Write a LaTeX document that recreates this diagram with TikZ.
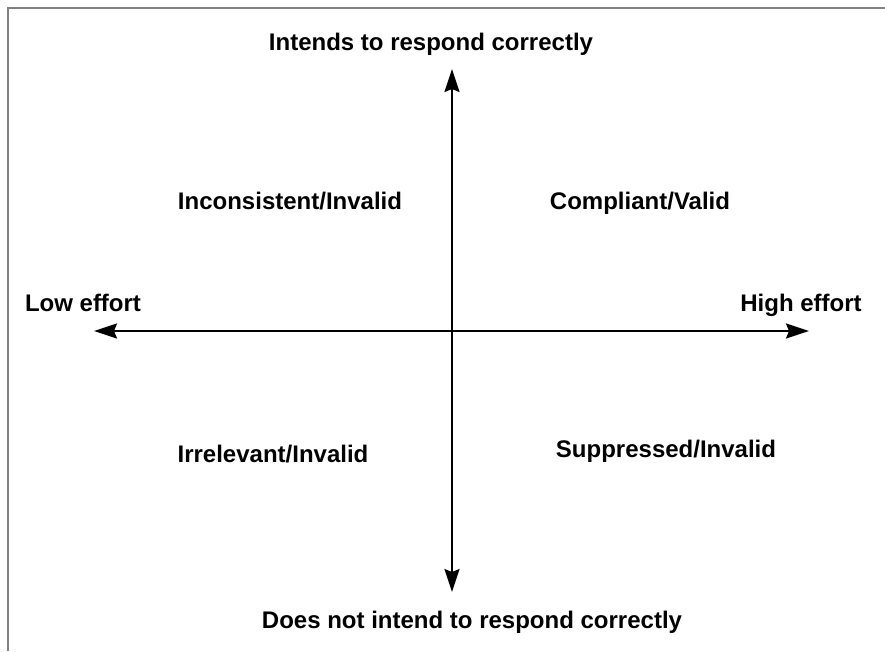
\documentclass[tikz,border=0pt]{standalone}
\usepackage{fontspec}
\setmainfont{Liberation Sans}
\usetikzlibrary{arrows.meta}

\begin{document}
\begin{tikzpicture}[x=1pt,y=1pt,
		label/.style={anchor=base,inner sep=0pt,font=\fontsize{24}{28}\selectfont\bfseries},
		axis/.style={line width=2pt,{Stealth[length=23pt,width=15pt,inset=3pt]}-{Stealth[length=23pt,width=15pt,inset=3pt]}}]
			\useasboundingbox (0,0) rectangle (885,-651);
			\draw[gray,line width=2pt] (8,-651) -- (8,-8) -- (885,-8);
			\coordinate (north) at (452,-69);
			\coordinate (south) at (452,-592);
			\coordinate (west) at (94,-331);
			\coordinate (east) at (809,-331);
			\draw[axis] (south) -- (north);
			\draw[axis] (west) -- (east);
			\node[label] (intends) at (431,-50) {Intends to respond correctly};
			\node[label] (notintends) at (472,-628) {Does not intend to respond correctly};
			\node[label] (low) at (83,-311) {Low effort};
			\node[label] (high) at (801,-311) {High effort};
			\node[label] (inconsistent) at (290,-209) {Inconsistent/Invalid};
			\node[label] (compliant) at (640,-209) {Compliant/Valid};
			\node[label] (irrelevant) at (273,-462) {Irrelevant/Invalid};
			\node[label] (suppressed) at (666,-457) {Suppressed/Invalid};
		\end{tikzpicture}
\end{document}
